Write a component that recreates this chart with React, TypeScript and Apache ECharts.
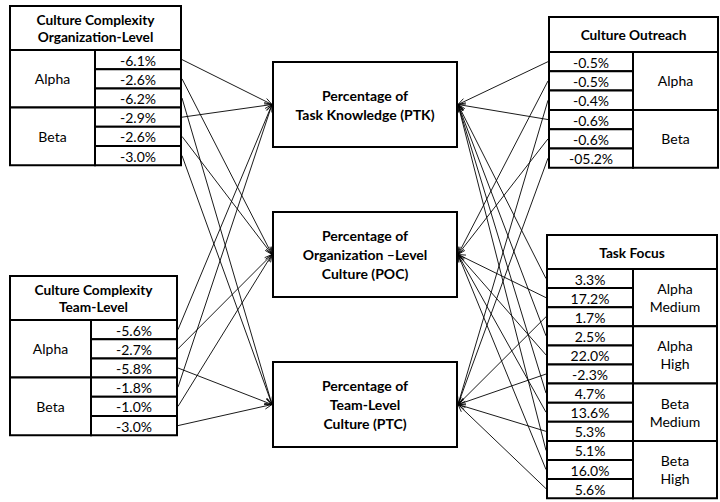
import React, { useEffect, useRef } from "react";
import * as echarts from "echarts";

// ---------- data ----------
const orgLevelTitle = ["Culture Complexity", "Organization-Level"];
const orgLevelGroups = ["Alpha", "Beta"];
const orgLevelValues = ["-6.1%", "-2.6%", "-6.2%", "-2.9%", "-2.6%", "-3.0%"];

const teamLevelTitle = ["Culture Complexity", "Team-Level"];
const teamLevelGroups = ["Alpha", "Beta"];
const teamLevelValues = ["-5.6%", "-2.7%", "-5.8%", "-1.8%", "-1.0%", "-3.0%"];

const outreachTitle = ["Culture Outreach"];
const outreachGroups = ["Alpha", "Beta"];
const outreachValues = ["-0.5%", "-0.5%", "-0.4%", "-0.6%", "-0.6%", "-05.2%"];

const taskFocusTitle = ["Task Focus"];
const taskFocusGroups = ["Alpha\nMedium", "Alpha\nHigh", "Beta\nMedium", "Beta\nHigh"];
const taskFocusValues = [
  "3.3%", "17.2%", "1.7%",
  "2.5%", "22.0%", "-2.3%",
  "4.7%", "13.6%", "5.3%",
  "5.1%", "16.0%", "5.6%",
];

const outcomes = [
  "Percentage of\nTask Knowledge (PTK)",
  "Percentage of\nOrganization \u2013Level\nCulture (POC)",
  "Percentage of\nTeam-Level\nCulture (PTC)",
];
// each row in a group points to outcome (row index % 3)
const outcomeOfRow = [0, 1, 2];

// ---------- layout ----------
const FONT = "Lato, 'Open Sans', sans-serif";
const VAL_SIZE = 14;
const HEAD_SIZE = 13.7;

type TableLayout = {
  title: string[];
  groups: string[];
  values: string[];
  x: number;
  y: number;
  w: number;
  headerH: number;
  rowH: number;
  valueW: number;
  side: "left" | "right";
};

const tables: TableLayout[] = [
  { title: orgLevelTitle, groups: orgLevelGroups, values: orgLevelValues, x: 10, y: 6, w: 171, headerH: 44, rowH: 19.2, valueW: 86, side: "left" },
  { title: teamLevelTitle, groups: teamLevelGroups, values: teamLevelValues, x: 10, y: 276, w: 167, headerH: 44, rowH: 19.2, valueW: 86, side: "left" },
  { title: outreachTitle, groups: outreachGroups, values: outreachValues, x: 549, y: 17, w: 169, headerH: 35, rowH: 19.3, valueW: 84, side: "right" },
  { title: taskFocusTitle, groups: taskFocusGroups, values: taskFocusValues, x: 547, y: 235, w: 170, headerH: 34, rowH: 19.1, valueW: 86, side: "right" },
];

const boxX = 273;
const boxW = 184;
const boxYs = [62, 212, 362];
const boxH = 85;

function buildGraphic() {
  const els: any[] = [];
  const lines: any[] = [];

  const rect = (x: number, y: number, w: number, h: number, lw = 2) => ({
    type: "rect",
    shape: { x, y, width: w, height: h },
    style: { fill: "#fff", stroke: "#000", lineWidth: lw },
    z: 10,
  });
  const text = (t: string, x: number, y: number, size: number, bold: boolean, lh: number) => ({
    type: "text",
    x,
    y,
    style: {
      text: t,
      fill: "#000",
      fontFamily: FONT,
      fontSize: size,
      fontWeight: bold ? "bold" : "normal",
      align: "center",
      verticalAlign: "middle",
      lineHeight: lh,
    },
    z: 20,
  });

  const arrow = (x1: number, y1: number, x2: number, y2: number) => {
    const a = Math.atan2(y2 - y1, x2 - x1);
    const L = 8;
    const th = 0.38;
    lines.push({
      type: "line",
      shape: { x1, y1, x2, y2 },
      style: { stroke: "#000", lineWidth: 0.9 },
      z: 30,
    });
    lines.push({
      type: "polyline",
      shape: {
        points: [
          [x2 - L * Math.cos(a - th), y2 - L * Math.sin(a - th)],
          [x2, y2],
          [x2 - L * Math.cos(a + th), y2 - L * Math.sin(a + th)],
        ],
      },
      style: { stroke: "#000", lineWidth: 0.9, fill: null },
      z: 30,
    });
  };

  // outcome boxes
  outcomes.forEach((t, i) => {
    els.push(rect(boxX, boxYs[i], boxW, boxH, 2));
    els.push(text(t, boxX + boxW / 2, boxYs[i] + boxH / 2, 14, true, 19));
  });

  tables.forEach((tb) => {
    // header
    els.push(rect(tb.x, tb.y, tb.w, tb.headerH, 2));
    els.push(text(tb.title.join("\n"), tb.x + tb.w / 2, tb.y + tb.headerH / 2, HEAD_SIZE, true, 16.5));
    const bodyY = tb.y + tb.headerH;
    const labelW = tb.w - tb.valueW;
    const valX = tb.side === "left" ? tb.x + labelW : tb.x;
    const labX = tb.side === "left" ? tb.x : tb.x + tb.valueW;
    const perGroup = tb.values.length / tb.groups.length;
    tb.groups.forEach((g, gi) => {
      const gy = bodyY + gi * perGroup * tb.rowH;
      const gh = perGroup * tb.rowH;
      els.push(rect(labX, gy, labelW, gh, 2));
      els.push(text(g, labX + labelW / 2, gy + gh / 2, VAL_SIZE, false, 18));
    });
    tb.values.forEach((v, ri) => {
      const ry = bodyY + ri * tb.rowH;
      els.push(rect(valX, ry, tb.valueW, tb.rowH, 2));
      els.push(text(v, valX + tb.valueW / 2, ry + tb.rowH / 2 + 0.5, VAL_SIZE, false, 16));
      const target = outcomeOfRow[ri % 3];
      const ty = boxYs[target] + boxH / 2;
      if (tb.side === "left") {
        arrow(valX + tb.valueW + 1, ry + tb.rowH / 2, boxX - 1, ty);
      } else {
        arrow(valX - 1, ry + tb.rowH / 2, boxX + boxW + 1, ty);
      }
    });
  });

  return [...els, ...lines];
}

export default function App() {
  const ref = useRef<HTMLDivElement>(null);
  useEffect(() => {
    if (!ref.current) return;
    const chart = echarts.init(ref.current, undefined, { renderer: "svg" });
    chart.setOption({
      animation: false,
      backgroundColor: "#fff",
      graphic: buildGraphic(),
    });
    return () => chart.dispose();
  }, []);
  return (
    <div
      ref={ref}
      style={{ position: "absolute", left: 0, top: 0, width: 720, height: 502, background: "#fff" }}
    />
  );
}
